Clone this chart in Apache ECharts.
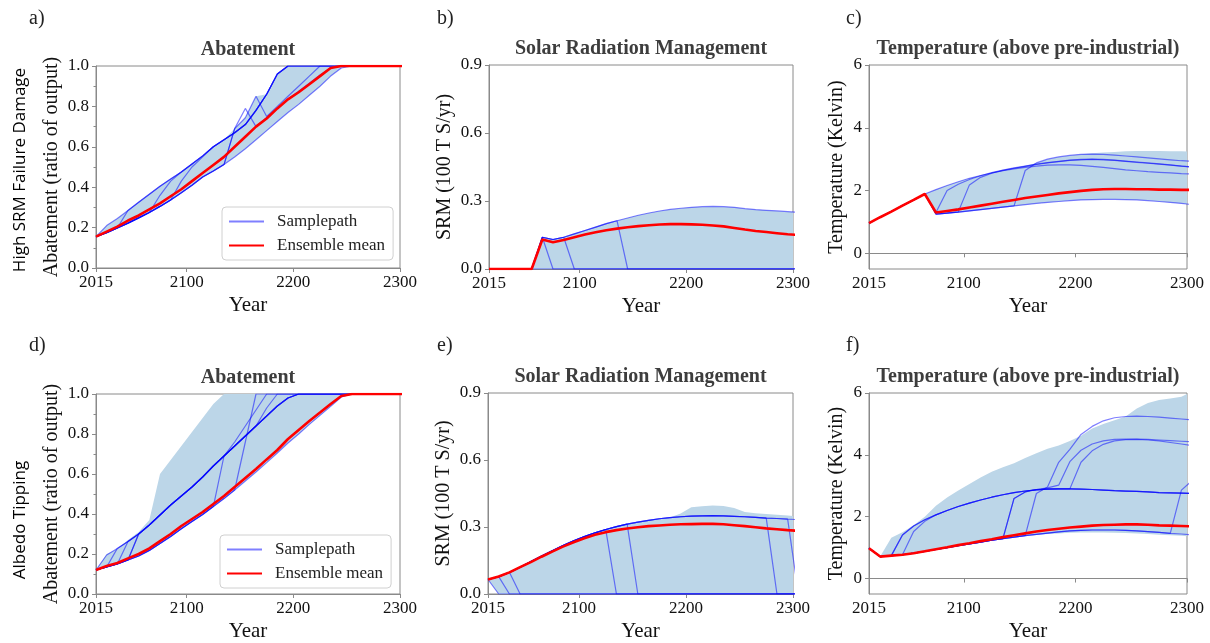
<!DOCTYPE html>
<html>
<head>
<meta charset="utf-8">
<script src="https://cdn.jsdelivr.net/npm/echarts@6/dist/echarts.min.js"></script>
<style>
html,body{margin:0;padding:0;background:#fff;}
#chart{width:1210px;height:643px;}
</style>
</head>
<body>
<div id="chart"></div>
<script>
// ---------- DATA ----------
const years = [2015,2025,2035,2045,2055,2065,2075,2085,2095,2105,2115,2125,2135,2145,2155,2165,2175,2185,2195,2205,2215,2225,2235,2245,2255,2265,2275,2285,2295,2305];
const xTicks = [2015, 2100, 2200, 2300];

// a) High SRM failure damage - Abatement
const aMean = [.155,.18,.205,.235,.26,.29,.32,.355,.39,.43,.47,.51,.55,.60,.65,.70,.74,.79,.835,.87,.91,.95,.99,1,1,1,1,1,1,1];
const aFillLo = [.155,.175,.198,.222,.248,.275,.305,.337,.372,.41,.45,.48,.512,.55,.59,.635,.68,.725,.77,.81,.855,.90,.95,.99,1,1,1,1,1,1];
const aFillHi = [.155,.21,.245,.285,.325,.365,.405,.44,.475,.515,.555,.60,.635,.69,.744,.85,.86,.96,1,1,1,1,1,1,1,1,1,1,1,1];
const aPath1 = [.155,.21,.245,.285,.325,.365,.405,.44,.475,.515,.555,.60,.635,.67,.71,.78,.86,.96,1,1,1,1,1,1,1,1,1,1,1,1];
const aPath2 = [.155,.175,.198,.222,.248,.275,.305,.337,.372,.41,.45,.48,.512,.69,.744,.85,.75,.80,.85,.90,.95,1,1,1,1,1,1,1,1,1];
const aPath3 = [.155,.175,.198,.222,.248,.275,.305,.337,.372,.41,.45,.48,.512,.69,.79,.70,.745,.79,.835,.875,.915,.955,.99,1,1,1,1,1,1,1];
const aPath4 = [.155,.175,.198,.222,.248,.275,.305,.337,.372,.41,.45,.48,.512,.55,.59,.635,.68,.725,.77,.81,.855,.90,.95,.99,1,1,1,1,1,1];
const aPath5 = [.155,.175,.198,.285,.325,.365,.405,.44,.475,.515,.555,.60,.635,.67,.71,.78,.86,.96,1,1,1,1,1,1,1,1,1,1,1,1];
const aPath6 = [.155,.175,.198,.222,.248,.275,.36,.43,.475,.515,.555,.60,.635,.67,.71,.78,.86,.96,1,1,1,1,1,1,1,1,1,1,1,1];
const aPath7 = [.155,.175,.198,.222,.248,.275,.305,.337,.43,.50,.55,.60,.635,.67,.71,.78,.86,.96,1,1,1,1,1,1,1,1,1,1,1,1];

// b) High SRM failure damage - SRM
const bMean = [0,0,0,0,0,.13,.118,.128,.14,.152,.162,.171,.178,.184,.189,.193,.196,.198,.198,.197,.195,.192,.188,.181,.174,.168,.163,.158,.153,.15];
const bFillLo = [0,0,0,0,0,0,0,0,0,0,0,0,0,0,0,0,0,0,0,0,0,0,0,0,0,0,0,0,0,0];
const bFillHi = [0,0,0,0,0,.14,.13,.14,.155,.17,.185,.20,.213,.225,.237,.247,.256,.263,.268,.272,.275,.276,.275,.272,.266,.262,.259,.256,.253,.25];
const bPath1 = [0,0,0,0,0,.14,.13,.14,.155,.17,.185,.20,.213,.225,.237,.247,.256,.263,.268,.272,.275,.276,.275,.272,.266,.262,.259,.256,.253,.25];
const bPath2 = [0,0,0,0,0,.14,0,0,0,0,0,0,0,0,0,0,0,0,0,0,0,0,0,0,0,0,0,0,0,0];
const bPath3 = [0,0,0,0,0,.14,.13,.14,0,0,0,0,0,0,0,0,0,0,0,0,0,0,0,0,0,0,0,0,0,0];
const bPath4 = [0,0,0,0,0,.14,.13,.14,.155,.17,.185,.20,.213,0,0,0,0,0,0,0,0,0,0,0,0,0,0,0,0,0];
const bPath5 = [0,0,0,0,0,0,0,0,0,0,0,0,0,0,0,0,0,0,0,0,0,0,0,0,0,0,0,0,0,0];

// c) High SRM failure damage - Temperature
const cMean = [.96,1.15,1.33,1.52,1.70,1.89,1.30,1.35,1.40,1.46,1.52,1.58,1.64,1.70,1.76,1.81,1.86,1.91,1.95,1.99,2.02,2.04,2.05,2.05,2.04,2.04,2.03,2.03,2.02,2.02];
const cFillLo = [.96,1.15,1.33,1.52,1.70,1.89,1.25,1.28,1.31,1.35,1.39,1.43,1.47,1.51,1.55,1.59,1.62,1.65,1.68,1.70,1.71,1.72,1.72,1.71,1.70,1.68,1.65,1.62,1.59,1.55];
const cFillHi = [.96,1.15,1.33,1.52,1.70,1.89,2.03,2.16,2.28,2.39,2.48,2.57,2.65,2.72,2.79,2.88,3.0,3.07,3.12,3.16,3.19,3.21,3.23,3.25,3.26,3.26,3.26,3.25,3.25,3.24];
const cPath1 = [.96,1.15,1.33,1.52,1.70,1.89,1.25,1.28,1.31,1.35,1.39,1.43,1.47,1.51,1.55,1.59,1.62,1.65,1.68,1.70,1.71,1.72,1.72,1.71,1.70,1.68,1.65,1.62,1.59,1.55];
const cPath2 = [.96,1.15,1.33,1.52,1.70,1.89,1.30,2.0,2.2,2.35,2.47,2.57,2.65,2.72,2.78,2.84,2.89,2.93,2.97,2.99,3.0,2.99,2.97,2.94,2.91,2.88,2.85,2.82,2.78,2.75];
const cPath3 = [.96,1.15,1.33,1.52,1.70,1.89,1.25,1.28,1.32,2.18,2.42,2.55,2.64,2.71,2.77,2.83,2.88,2.92,2.96,2.98,2.99,2.98,2.96,2.93,2.90,2.87,2.84,2.81,2.78,2.74];
const cPath4 = [.96,1.15,1.33,1.52,1.70,1.89,1.25,1.28,1.31,1.35,1.39,1.43,1.47,1.51,2.64,2.88,3.0,3.07,3.12,3.15,3.16,3.15,3.13,3.1,3.07,3.04,3.01,2.98,2.95,2.93];
const cPath5 = [.96,1.15,1.33,1.52,1.70,1.89,2.03,2.16,2.28,2.39,2.48,2.56,2.63,2.69,2.74,2.78,2.81,2.82,2.82,2.80,2.77,2.74,2.70,2.66,2.63,2.60,2.58,2.56,2.54,2.53];

// d) Albedo tipping - Abatement
const dMean = [.12,.14,.155,.178,.20,.228,.264,.30,.34,.375,.41,.45,.49,.535,.58,.625,.673,.72,.775,.82,.865,.907,.95,.99,1,1,1,1,1,1];
const dFillLo = [.12,.135,.15,.17,.19,.218,.252,.288,.326,.362,.398,.437,.477,.52,.565,.61,.657,.705,.755,.80,.848,.893,.938,.985,1,1,1,1,1,1];
const dFillHi = [.12,.20,.225,.27,.31,.37,.60,.67,.74,.81,.88,.95,1,1,1,1,1,1,1,1,1,1,1,1,1,1,1,1,1,1];
const dPath1 = [.12,.135,.15,.17,.19,.218,.252,.288,.326,.362,.398,.437,.477,.52,.565,.61,.657,.705,.755,.80,.848,.893,.938,.985,1,1,1,1,1,1];
const dPath2 = [.12,.135,.228,.262,.30,.345,.395,.445,.49,.535,.585,.64,.69,.74,.79,.84,.89,.94,.98,1,1,1,1,1,1,1,1,1,1,1];
const dPath3 = [.12,.135,.15,.262,.30,.345,.395,.445,.49,.535,.585,.64,.69,.74,.79,.84,.89,.94,.98,1,1,1,1,1,1,1,1,1,1,1];
const dPath4 = [.12,.135,.15,.17,.30,.345,.395,.445,.49,.535,.585,.64,.69,.74,.79,.84,.89,.94,.98,1,1,1,1,1,1,1,1,1,1,1];
const dPath5 = [.12,.135,.15,.17,.19,.218,.252,.288,.326,.362,.398,.437,.69,.76,.84,.92,1,1,1,1,1,1,1,1,1,1,1,1,1,1];
const dPath6 = [.12,.135,.15,.17,.19,.218,.252,.288,.326,.362,.398,.437,.477,.52,.76,1,1,1,1,1,1,1,1,1,1,1,1,1,1,1];
const dPath7 = [.12,.135,.15,.17,.30,.345,.395,.445,.49,.535,.585,.64,.69,.74,.79,.84,.93,1,1,1,1,1,1,1,1,1,1,1,1,1];
const dPath8 = [.12,.195,.228,.262,.30,.345,.395,.445,.49,.535,.585,.64,.69,.74,.79,.84,.89,.94,.98,1,1,1,1,1,1,1,1,1,1,1];

// e) Albedo tipping - SRM
const eMean = [.065,.078,.097,.12,.143,.167,.19,.212,.232,.25,.265,.277,.286,.293,.299,.304,.307,.31,.312,.313,.314,.314,.312,.308,.304,.299,.294,.29,.286,.283];
const eFillLo = [.065,0,0,0,0,0,0,0,0,0,0,0,0,0,0,0,0,0,0,0,0,0,0,0,0,0,0,0,0,0];
const eFillHi = [.065,.078,.097,.12,.145,.17,.194,.217,.238,.257,.274,.289,.302,.313,.322,.33,.337,.342,.36,.388,.393,.396,.394,.385,.367,.362,.358,.355,.352,.347];
const ePath1 = [.065,.078,.097,.12,.145,.17,.194,.217,.238,.257,.274,.289,.302,.313,.322,.33,.337,.342,.346,.349,.35,.351,.35,.348,.346,.343,.34,.338,.335,.333];
const ePath2 = [.065,.078,0,0,0,0,0,0,0,0,0,0,0,0,0,0,0,0,0,0,0,0,0,0,0,0,0,0,0,0];
const ePath3 = [.065,.078,.097,0,0,0,0,0,0,0,0,0,0,0,0,0,0,0,0,0,0,0,0,0,0,0,0,0,0,0];
const ePath4 = [.065,.078,.097,.12,.145,.17,.194,.217,.238,.257,.274,.289,0,0,0,0,0,0,0,0,0,0,0,0,0,0,0,0,0,0];
const ePath5 = [.065,.078,.097,.12,.145,.17,.194,.217,.238,.257,.274,.289,.302,.313,0,0,0,0,0,0,0,0,0,0,0,0,0,0,0,0];
const ePath6 = [.065,.078,.097,.12,.145,.17,.194,.217,.238,.257,.274,.289,.302,.313,.322,.33,.337,.342,.346,.349,.35,.351,.35,.348,.346,.343,.34,0,0,0];
const ePath7 = [.065,.078,.097,.12,.145,.17,.194,.217,.238,.257,.274,.289,.302,.313,.322,.33,.337,.342,.346,.349,.35,.351,.35,.348,.346,.343,.34,.338,.335,0];
const ePath8 = [.065,0,0,0,0,0,0,0,0,0,0,0,0,0,0,0,0,0,0,0,0,0,0,0,0,0,0,0,0,0];

// f) Albedo tipping - Temperature
const fMean = [.98,.71,.74,.77,.82,.88,.95,1.01,1.08,1.14,1.21,1.27,1.34,1.40,1.46,1.52,1.57,1.61,1.65,1.68,1.71,1.73,1.74,1.75,1.75,1.74,1.72,1.71,1.70,1.69];
const fFillLo = [.98,.71,.74,.77,.82,.88,.94,1.0,1.06,1.12,1.18,1.24,1.29,1.34,1.38,1.41,1.44,1.46,1.48,1.49,1.49,1.49,1.48,1.47,1.46,1.44,1.42,1.40,1.38,1.36];
const fFillHi = [.98,.71,1.32,1.5,1.72,2.0,2.35,2.62,2.85,3.06,3.27,3.45,3.6,3.73,3.9,4.05,4.2,4.3,4.45,4.62,4.85,5.0,5.12,5.24,5.5,5.68,5.77,5.82,5.88,6.05];
const fPath1 = [.98,.71,.74,.77,.82,.88,.94,1.0,1.06,1.12,1.18,1.24,1.29,1.34,1.39,1.43,1.47,1.51,1.54,1.56,1.57,1.57,1.57,1.56,1.54,1.52,1.49,1.46,1.44,1.41];
const fPath2 = [.98,.71,.74,1.41,1.70,1.9,2.06,2.2,2.33,2.44,2.54,2.63,2.71,2.78,2.83,2.87,2.89,2.9,2.9,2.89,2.88,2.86,2.84,2.83,2.82,2.8,2.78,2.77,2.76,2.75];
const fPath3 = [.98,.71,.74,.77,1.52,1.85,2.06,2.2,2.33,2.44,2.54,2.63,2.71,2.78,2.83,2.87,2.89,2.9,2.9,2.89,2.88,2.86,2.84,2.83,2.82,2.8,2.78,2.77,2.76,2.75];
const fPath4 = [.98,.71,.74,.77,.82,.88,.94,1.0,1.06,1.12,1.18,1.24,1.29,2.59,2.8,2.88,2.9,2.9,2.9,2.89,2.88,2.86,2.84,2.83,2.82,2.8,2.78,2.77,2.76,2.75];
const fPath5 = [.98,.71,.74,.77,.82,.88,.94,1.0,1.06,1.12,1.18,1.24,1.29,1.34,1.39,2.75,2.96,3.76,4.18,4.66,4.92,5.1,5.2,5.24,5.25,5.24,5.22,5.19,5.16,5.13];
const fPath6 = [.98,.71,.74,.77,.82,.88,.94,1.0,1.06,1.12,1.18,1.24,1.29,2.59,2.8,2.88,2.93,3.02,3.78,4.15,4.35,4.45,4.5,4.51,4.51,4.5,4.48,4.46,4.44,4.42];
const fPath7 = [.98,.71,.74,1.41,1.70,1.9,2.06,2.2,2.33,2.44,2.54,2.63,2.71,2.78,2.83,2.87,2.89,2.9,2.9,3.76,4.13,4.34,4.45,4.49,4.5,4.48,4.45,4.4,4.35,4.3];
const fPath8 = [.98,.71,.74,.77,.82,.88,.94,1.0,1.06,1.12,1.18,1.24,1.29,1.34,1.39,1.43,1.47,1.51,1.54,1.56,1.57,1.57,1.57,1.56,1.54,1.52,1.49,1.46,2.86,3.18];

const panelTitles = ['Abatement','Solar Radiation Management','Temperature (above pre-industrial)','Abatement','Solar Radiation Management','Temperature (above pre-industrial)'];
const panelLetters = ['a)','b)','c)','d)','e)','f)'];
const yNames = ['Abatement (ratio of output)','SRM (100 T S/yr)','Temperature (Kelvin)','Abatement (ratio of output)','SRM (100 T S/yr)','Temperature (Kelvin)'];
const rowLabels = ['High SRM Failure Damage','Albedo Tipping'];
const xName = 'Year';
const legendNames = ['Samplepath','Ensemble mean'];

// ---------- PANELS ----------
const panels = [
  {mean:aMean, lo:aFillLo, hi:aFillHi, paths:[aPath1,aPath2,aPath3,aPath4,aPath5,aPath6,aPath7]},
  {mean:bMean, lo:bFillLo, hi:bFillHi, paths:[bPath1,bPath2,bPath3,bPath4,bPath5]},
  {mean:cMean, lo:cFillLo, hi:cFillHi, paths:[cPath1,cPath2,cPath3,cPath4,cPath5]},
  {mean:dMean, lo:dFillLo, hi:dFillHi, paths:[dPath1,dPath2,dPath3,dPath4,dPath5,dPath6,dPath7,dPath8]},
  {mean:eMean, lo:eFillLo, hi:eFillHi, paths:[ePath1,ePath2,ePath3,ePath4,ePath5,ePath6,ePath7,ePath8]},
  {mean:fMean, lo:fFillLo, hi:fFillHi, paths:[fPath1,fPath2,fPath3,fPath4,fPath5,fPath6,fPath7,fPath8]}
];

const grids = [
  {left:96, top:66, width:304, height:202},
  {left:489, top:65, width:304, height:204},
  {left:869, top:65, width:318, height:204},
  {left:96, top:394, width:304, height:202},
  {left:488, top:393, width:305, height:204},
  {left:869, top:393, width:318, height:204}
];
const yCfg = [
  {min:0, max:1, interval:0.2, dec:1, minor:true, gap:34},
  {min:0, max:0.9, interval:0.3, dec:1, minor:false, gap:34},
  {min:-0.5, max:6, custom:[0,2,4,6], dec:0, minor:false, gap:22},
  {min:0, max:1, interval:0.2, dec:1, minor:true, gap:34},
  {min:0, max:0.9, interval:0.3, dec:1, minor:false, gap:34},
  {min:-0.5, max:6, custom:[0,2,4,6], dec:0, minor:false, gap:22}
];

const FILL = '#bcd6e8';
const SAMPLE = 'rgba(0,0,255,0.5)';
const MEAN = '#ff0000';
const AXIS = '#8a8a8a';
const SERIF = '"Liberation Serif", "Times New Roman", serif';

const xAxes = [], yAxes = [], series = [], graphics = [];
grids.forEach((g, i) => {
  xAxes.push({
    type:'value', gridIndex:i, min:2015, max:2300,
    name:xName, nameLocation:'middle', nameGap:27,
    nameTextStyle:{fontFamily:SERIF, fontSize:21, color:'#111'},
    axisLine:{show:true, lineStyle:{color:AXIS, width:1}},
    axisTick:{show:true, inside:false, length:4, lineStyle:{color:AXIS}, customValues:xTicks},
    axisLabel:{fontFamily:SERIF, fontSize:17, color:'#111', margin:6, customValues:xTicks,
      formatter:(v)=>String(Math.round(v))},
    splitLine:{show:false}
  });
  const c = yCfg[i];
  const y = {
    type:'value', gridIndex:i, min:c.min, max:c.max,
    name:yNames[i], nameLocation:'middle', nameGap:c.gap, nameRotate:90,
    nameTextStyle:{fontFamily:SERIF, fontSize:20, color:'#111'},
    axisLine:{show:true, lineStyle:{color:AXIS, width:1}},
    axisTick:{show:true, inside:false, length:4, lineStyle:{color:AXIS}},
    axisLabel:{fontFamily:SERIF, fontSize:17, color:'#111', margin:7,
      formatter:(v)=>Number(v).toFixed(c.dec)},
    splitLine:{show:false},
    minorTick:{show:c.minor, splitNumber:2, length:2.5, lineStyle:{color:AXIS}}
  };
  if (c.custom) {
    y.axisTick.customValues = c.custom;
    y.axisLabel.customValues = c.custom;
  } else {
    y.interval = c.interval;
  }
  yAxes.push(y);

  const p = panels[i];
  // uncertainty band drawn through the axis scales (api.coord)
  series.push({
    type:'custom', name:'band-'+i, xAxisIndex:i, yAxisIndex:i, silent:true, z:1,
    data:years.map((yr,k)=>[yr, p.lo[k], p.hi[k]]),
    encode:{x:0, y:[1,2]},
    renderItem:(params, api) => {
      if (params.dataIndex !== 0) return null;
      const pts = [];
      for (let k = 0; k < years.length; k++) pts.push(api.coord([years[k], p.hi[k]]));
      for (let k = years.length - 1; k >= 0; k--) pts.push(api.coord([years[k], p.lo[k]]));
      const cs = params.coordSys;
      return {
        type:'group',
        clipPath:{type:'rect', shape:{x:cs.x, y:cs.y, width:cs.width, height:cs.height}},
        children:[{type:'polygon', shape:{points:pts}, style:{fill:FILL, stroke:null}}]
      };
    }
  });
  p.paths.forEach(path => {
    series.push({
      type:'line', name:'Samplepath', xAxisIndex:i, yAxisIndex:i,
      data:years.map((yr,k)=>[yr, path[k]]), symbol:'none', silent:true,
      itemStyle:{color:SAMPLE}, lineStyle:{color:SAMPLE, width:1.2}, z:2
    });
  });
  series.push({
    type:'line', name:'Ensemble mean', xAxisIndex:i, yAxisIndex:i,
    data:years.map((yr,k)=>[yr, p.mean[k]]), symbol:'none', silent:true,
    itemStyle:{color:MEAN}, lineStyle:{color:MEAN, width:2.6}, z:3
  });

  // panel title
  graphics.push({type:'text', x:g.left + g.width/2, y:g.top - 16,
    style:{text:panelTitles[i], align:'center', verticalAlign:'middle',
      font:'bold 20px ' + SERIF, fill:'#3d3d3d'}});
  // panel letter
  const lx = [29, 437, 846][i % 3];
  const ly = i < 3 ? 19 : 346;
  graphics.push({type:'text', x:lx, y:ly,
    style:{text:panelLetters[i], align:'left', verticalAlign:'middle',
      font:'20px ' + SERIF, fill:'#222'}});
});

// row labels
graphics.push({type:'text', x:20, y:170, rotation:Math.PI/2,
  style:{text:rowLabels[0], align:'center', verticalAlign:'middle', font:'17px "Open Sans", sans-serif', fill:'#000'}});
graphics.push({type:'text', x:20, y:520, rotation:Math.PI/2,
  style:{text:rowLabels[1], align:'center', verticalAlign:'middle', font:'17px "Open Sans", sans-serif', fill:'#000'}});

const legendCommon = {
  orient:'vertical', data:legendNames, selectedMode:false,
  itemWidth:35, itemHeight:14, itemGap:7,
  itemStyle:{opacity:0},
  backgroundColor:'rgba(255,255,255,0.85)', borderColor:'#d0d0d0', borderWidth:1, borderRadius:4,
  padding:[6,8,6,6],
  textStyle:{fontFamily:SERIF, fontSize:17, color:'#222', padding:[0,0,0,8]}
};

const option = {
  animation:false,
  backgroundColor:'#ffffff',
  grid:grids.map(g => Object.assign({show:true, borderColor:AXIS, borderWidth:1, backgroundColor:'transparent'}, g)),
  xAxis:xAxes,
  yAxis:yAxes,
  legend:[
    Object.assign({left:222, top:207}, legendCommon),
    Object.assign({left:220, top:535}, legendCommon)
  ],
  series:series,
  graphic:graphics
};

const chart = echarts.init(document.getElementById('chart'), null, {renderer:'canvas'});
chart.setOption(option);
</script>
</body>
</html>
